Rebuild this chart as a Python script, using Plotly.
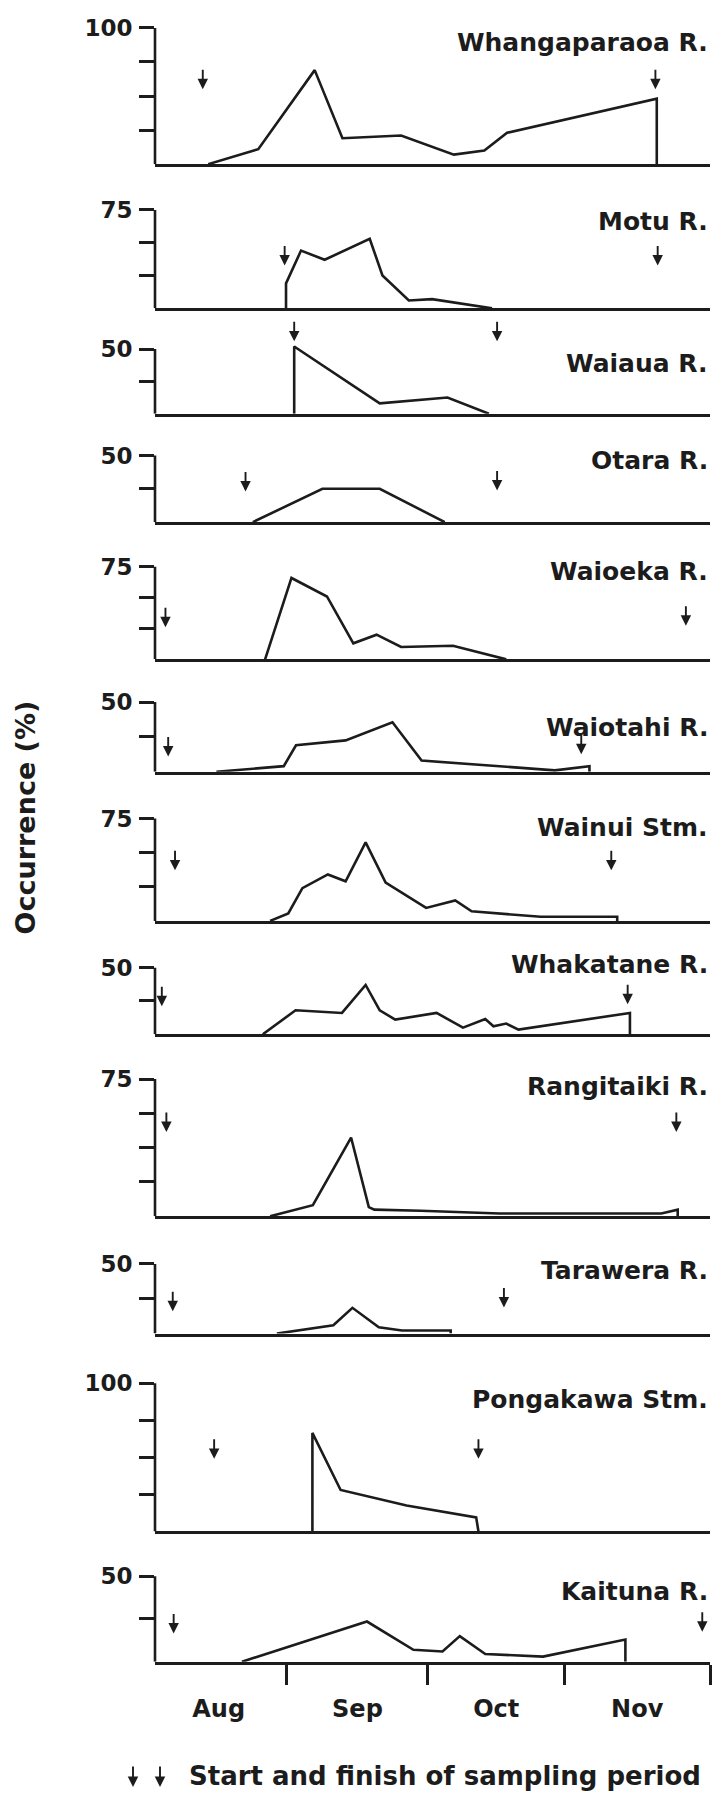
import plotly.graph_objects as go

# ---- data: occurrence (%) against days since 1 August ----
MONTH_LABELS = ["Aug", "Sep", "Oct", "Nov"]
MONTH_MID = [14, 44.5, 75, 106]
MONTH_EDGES = [29, 60, 90, 122]

rivers = ["Whangaparaoa R.", "Motu R.", "Waiaua R.", "Otara R.", "Waioeka R.",
          "Waiotahi R.", "Wainui Stm.", "Whakatane R.", "Rangitaiki R.",
          "Tarawera R.", "Pongakawa Stm.", "Kaituna R."]
scale_max = [100, 75, 50, 50, 75, 50, 75, 50, 75, 50, 100, 50]
tick_step = [25, 25, 25, 25, 25, 25, 25, 25, 18.75, 25, 25, 25]

whangaparaoa_day = [11.7, 22.7, 35.1, 41.2, 54.1, 65.7, 72.4, 77.4, 110.3, 110.3]
whangaparaoa_pct = [0, 11, 69, 19, 21, 7, 10, 23, 48, 0]

motu_day = [28.8, 28.8, 32.1, 37.3, 47.2, 50.0, 55.8, 60.9, 74.1]
motu_pct = [0, 19, 44, 37, 53, 25, 6, 7, 0]

waiaua_day = [30.6, 30.6, 49.4, 64.3, 73.4]
waiaua_pct = [0, 52, 8, 12.5, 0]

otara_day = [21.5, 36.8, 49.4, 63.7]
otara_pct = [0, 25, 25, 0]

waioeka_day = [24.2, 30.0, 37.8, 43.6, 48.7, 54.1, 65.5, 77.2]
waioeka_pct = [0, 66, 51, 13, 20, 10, 11, 0]

waiotahi_day = [13.5, 28.3, 31.0, 41.9, 52.2, 58.6, 87.9, 95.5, 95.5]
waiotahi_pct = [0, 4, 19, 22.5, 35.5, 8, 1, 4, 0]

wainui_day = [25.3, 29.3, 32.4, 38.0, 41.9, 46.3, 50.7, 59.6, 66.0, 69.6, 84.8, 101.6, 101.6]
wainui_pct = [0, 5.5, 24, 34, 29, 57.5, 28, 9.5, 15, 7, 3, 3, 0]

whakatane_day = [23.7, 30.9, 41.1, 46.3, 49.4, 52.8, 61.9, 67.7, 72.6, 74.4, 77.2, 79.9, 104.4, 104.4]
whakatane_pct = [0, 18, 16, 37, 18, 11, 16, 5, 11.5, 6, 8, 3.5, 16, 0]

rangitaiki_day = [25.3, 34.7, 43.1, 47.0, 48.2, 58.4, 75.7, 111.3, 114.9, 114.9]
rangitaiki_pct = [0, 6, 43, 5, 3.6, 3, 1.5, 1.5, 3.6, 0]

tarawera_day = [26.8, 39.2, 43.4, 49.2, 54.3, 65.0, 65.0]
tarawera_pct = [0, 6, 18.5, 4.5, 2.2, 2.2, 0]

pongakawa_day = [34.6, 34.6, 40.8, 55.3, 70.6, 71.1]
pongakawa_pct = [0, 66.5, 28, 17.5, 9.5, 0]

kaituna_day = [19.1, 46.6, 56.8, 63.2, 67.0, 72.6, 85.3, 103.4, 103.4]
kaituna_pct = [0, 23.5, 7, 6, 15, 4.5, 3, 13, 0]

series_day = [whangaparaoa_day, motu_day, waiaua_day, otara_day, waioeka_day,
              waiotahi_day, wainui_day, whakatane_day, rangitaiki_day,
              tarawera_day, pongakawa_day, kaituna_day]
series_pct = [whangaparaoa_pct, motu_pct, waiaua_pct, otara_pct, waioeka_pct,
              waiotahi_pct, wainui_pct, whakatane_pct, rangitaiki_pct,
              tarawera_pct, pongakawa_pct, kaituna_pct]

# sampling period: first and last sampling day, and arrow tip heights (%)
sample_start = [10.5, 28.5, 30.6, 19.9, 2.3, 2.9, 4.4, 1.5, 2.5, 3.9, 13.0, 4.1]
sample_end = [110.0, 110.5, 75.2, 75.2, 116.7, 93.7, 100.3, 103.9, 114.6, 76.7, 71.1, 120.3]
start_level = [55, 32.6, 56, 23, 26, 11, 37, 21, 46, 16, 49, 16.5]
end_level = [55, 32.6, 56, 23.7, 27.3, 12.6, 37, 22.6, 46, 18.7, 49, 17.6]

# ---- page geometry (pixels) ----
W, H = 713, 1793
X_LEFT, X_RIGHT = 155, 710
top_px = [18, 201, 341, 448, 560, 696, 813, 963, 1075, 1261, 1381, 1575]
base_px = [155, 300, 406, 515, 653, 766, 916, 1030, 1213, 1331, 1530, 1661]
title_px = [33, 213, 355, 453, 565, 722, 822, 960, 1083, 1268, 1397, 1590]

INK = "#1c1c1c"
FONT = "DejaVu Sans"
LW = 2.6

fig = go.Figure()
layout = dict(
    width=W, height=H, margin=dict(l=0, r=0, t=0, b=0),
    paper_bgcolor="white", plot_bgcolor="white", showlegend=False,
)
annotations = []
shapes = []

n = len(rivers)
for i in range(n):
    k = "" if i == 0 else str(i + 1)
    ymax = scale_max[i]
    top_val = max(ymax, max(series_pct[i]), start_level[i], end_level[i]) * 1.05
    px_per_unit = (base_px[i] - top_px[i]) / ymax
    dom_bottom = 1 - base_px[i] / H
    dom_top = 1 - (base_px[i] - px_per_unit * top_val) / H

    fig.add_trace(go.Scatter(
        x=series_day[i], y=series_pct[i], mode="lines",
        line=dict(color=INK, width=LW), xaxis="x" + k, yaxis="y" + k,
        hoverinfo="skip", cliponaxis=False,
    ))

    ticks = []
    t = tick_step[i]
    while t <= ymax + 1e-6:
        ticks.append(t)
        t += tick_step[i]
    ticktext = [""] * (len(ticks) - 1) + [str(ymax)]

    last = i == n - 1
    xaxis = dict(
        domain=[X_LEFT / W, X_RIGHT / W], range=[0, 122], anchor="y" + k,
        showline=True, linewidth=LW, linecolor=INK, showgrid=False,
        zeroline=False, ticks="", showticklabels=False, fixedrange=True,
    )
    if last:
        xaxis.update(
            showticklabels=True, tickvals=MONTH_MID, ticktext=MONTH_LABELS,
            tickfont=dict(family=FONT, size=24, color=INK, weight="bold"),
            ticklabelstandoff=24,
            minor=dict(tickvals=MONTH_EDGES, ticks="outside", ticklen=20,
                       tickwidth=LW, tickcolor=INK),
        )
    yaxis = dict(
        domain=[dom_bottom, dom_top], range=[0, top_val], anchor="x" + k,
        showline=False, showgrid=False, zeroline=False,
        tickvals=ticks, ticktext=ticktext, ticks="outside", ticklen=15,
        tickwidth=LW, tickcolor=INK, ticklabelstandoff=2,
        tickfont=dict(family=FONT, size=23, color=INK, weight="bold"),
        fixedrange=True,
    )
    layout["xaxis" + k] = xaxis
    layout["yaxis" + k] = yaxis

    # vertical axis line, drawn only up to the top tick
    shapes.append(dict(
        type="line", xref="x" + k + " domain", yref="y" + k,
        x0=0, x1=0, y0=0, y1=ymax, line=dict(color=INK, width=LW),
    ))

    # start / finish arrows
    for d, lv in ((sample_start[i], start_level[i]), (sample_end[i], end_level[i])):
        annotations.append(dict(
            xref="x" + k, yref="y" + k, x=d, y=lv, text="", showarrow=True,
            ax=0, ay=-21, arrowhead=2, arrowsize=1.1, arrowwidth=1.9,
            arrowcolor=INK,
        ))

    annotations.append(dict(
        xref="paper", yref="paper", x=X_RIGHT / W, y=1 - title_px[i] / H,
        xanchor="right", yanchor="middle", text=rivers[i], showarrow=False,
        font=dict(family=FONT, size=25, color=INK, weight="bold"),
    ))

# y-axis title
annotations.append(dict(
    xref="paper", yref="paper", x=25 / W, y=1 - 812 / H, text="Occurrence (%)",
    textangle=-90, showarrow=False, xanchor="center", yanchor="middle",
    font=dict(family=FONT, size=27, color=INK, weight="bold"),
))

# key for the arrows
for ax_px in (133, 160):
    annotations.append(dict(
        xref="paper", yref="paper", x=ax_px / W, y=1 - 1787 / H, text="",
        showarrow=True, ax=0, ay=-22, arrowhead=2, arrowsize=1.1,
        arrowwidth=1.9, arrowcolor=INK,
    ))
annotations.append(dict(
    xref="paper", yref="paper", x=187 / W, y=1 - 1776 / H,
    text="Start and finish of sampling period", showarrow=False,
    xanchor="left", yanchor="middle",
    font=dict(family=FONT, size=26, color=INK, weight="bold"),
))

layout["annotations"] = annotations
layout["shapes"] = shapes
fig.update_layout(**layout)
fig.write_html("out.html")
